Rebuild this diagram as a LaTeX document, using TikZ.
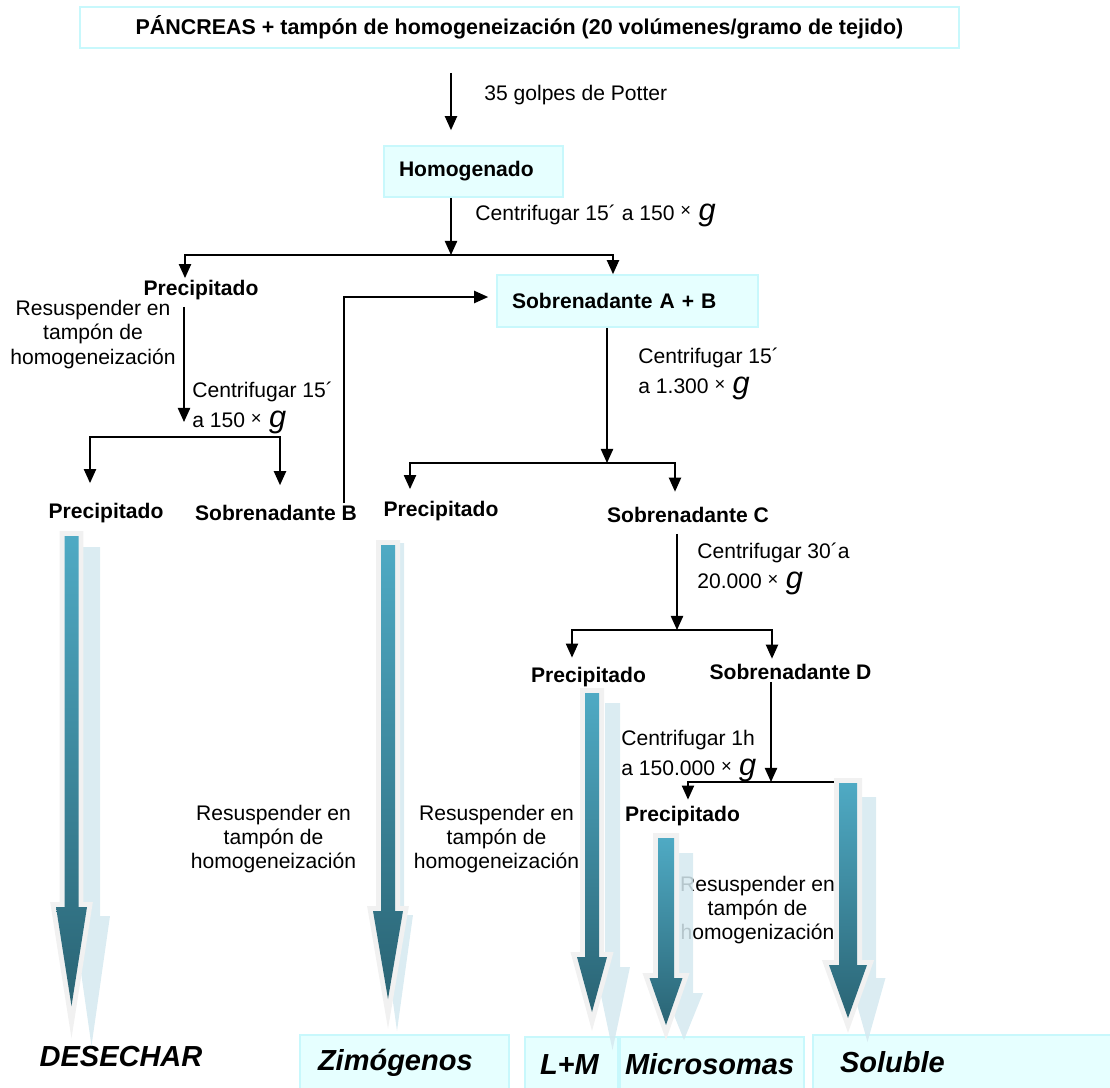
\documentclass[tikz,border=0pt]{standalone}
\usepackage{fontspec}
\setmainfont{Liberation Sans}
\usetikzlibrary{arrows.meta, calc}

\definecolor{boxfill}{HTML}{E6FFFF}
\definecolor{boxline}{HTML}{C8F8FC}
\definecolor{tealtop}{HTML}{4FAAC4}
\definecolor{tealbot}{HTML}{2A6474}
\definecolor{glowgray}{HTML}{F1F1F1}
\definecolor{shadowblue}{HTML}{D5E9F0}

\newcommand{\timesg}{\raisebox{2pt}{\fontsize{10.5}{10.5}\selectfont ×}\hspace{0.35em}{\fontsize{17.5}{17.5}\selectfont\itshape g}}

\begin{document}
\begin{tikzpicture}[x=0.02cm, y=-0.02cm,
    box/.style={draw=boxline, fill=boxfill, line width=1pt, font=\fontsize{12}{14}\selectfont\bfseries, align=left, inner xsep=0.3cm, inner ysep=0pt},
    stage/.style={font=\fontsize{12}{14}\selectfont\bfseries, inner sep=1pt},
    note/.style={font=\fontsize{12}{17.5}\selectfont, align=left, anchor=west, inner sep=0pt},
    resus/.style={font=\fontsize{12}{13.9}\selectfont, align=center, inner sep=0pt},
    outtext/.style={font=\fontsize{16.5}{18}\selectfont\bfseries\itshape},
    final/.style={outtext, draw=boxline, fill=boxfill, line width=1pt, align=left, minimum height=1.1cm, inner ysep=0pt},
    flow/.style={-{Triangle[width=7pt,length=8pt]}, line width=0.8pt}]
  \useasboundingbox (0,0) rectangle (1110,1088);

  % Nodes
  \node[draw=boxline, line width=1pt, minimum width=17.58cm, minimum height=0.82cm, font=\fontsize{12.2}{14}\selectfont\bfseries] (pancreas) at (519.5,27.5) {PÁNCREAS + tampón de homogeneización (20 volúmenes/gramo de tejido)};
  \node[box, text width=2.98cm, minimum height=1.02cm] (homog) at (473.5,171.5) {Homogenado};
  \node[box, text width=4.62cm, minimum height=1.04cm] (ab) at (627.5,301) {Sobrenadante A + B};

  \node[stage] (prec1) at (201,290) {Precipitado};
  \node[stage] (prec2) at (106,513) {Precipitado};
  \node[stage] (sobB) at (276,513) {Sobrenadante B};
  \node[stage] (prec3) at (441,511) {Precipitado};
  \node[stage] (sobC) at (688,515) {Sobrenadante C};
  \node[stage] (prec4) at (588.5,677) {Precipitado};
  \node[stage] (sobD) at (790.5,672) {Sobrenadante D};
  \node[stage] (prec5) at (682.5,816) {Precipitado};

  \node[outtext] (desechar) at (121,1057) {DESECHAR};
  \node[final, inner xsep=0.36cm, text width=3.46cm] (zimo) at (404.5,1062.5) {Zimógenos};
  \node[final, inner xsep=0.3cm, text width=1.26cm] (lm) at (571.5,1064.5) {L+M};
  \node[final, inner xsep=0.1cm, text width=3.48cm] (micro) at (712,1064.5) {Microsomas};
  \node[final, inner xsep=0.54cm, text width=5.16cm] (soluble) at (969,1062.5) {Soluble};

  % Labels
  \node[note] (potter) at (484,95) {35 golpes de Potter};
  \node[note] (spin1) at (475,215) {Centrifugar 15´ a 150 \timesg};
  \node[note] (spin2) at (192,408) {Centrifugar 15´\\a 150 \timesg};
  \node[note] (spin3) at (638,374) {Centrifugar 15´\\a 1.300 \timesg};
  \node[note] (spin4) at (697,569) {Centrifugar 30´a\\20.000 \timesg};
  \node[note] (spin5) at (621,756) {Centrifugar 1h\\a 150.000 \timesg};
  \node[resus] (resus1) at (93,334.5) {Resuspender en\\tampón de\\homogeneización};
  \node[resus] (resus2) at (273.5,839) {Resuspender en\\tampón de\\homogeneización};
  \node[resus] (resus3) at (496.5,839) {Resuspender en\\tampón de\\homogeneización};
  \node[resus] (resus4) at (757.5,910) {Resuspender en\\tampón de\\homogenización};

  % Arrows
  \coordinate (j1) at (451,255);
  \coordinate (j2) at (184,437);
  \coordinate (j3) at (607,463);
  \coordinate (j4) at (677,630);
  \coordinate (j5) at (771,782);
  \coordinate (j5end) at (836,782);

  \draw[flow, shorten <=0.48cm, shorten >=0.3cm] (pancreas.south -| j1) -- (homog.north -| j1);
  \draw[flow] (homog.south -| j1) -- (j1);
  \draw[flow] (j1) -| ([xshift=-0.32cm]prec1.north);
  \draw[flow] (j1) -| ([xshift=-0.29cm]ab.north);
  \draw[flow, shorten >=0.16cm] ([xshift=-0.3cm]sobB.north east) |- ([yshift=0.08cm]ab.west);

  \draw[flow, shorten <=0.1cm, shorten >=0.3cm] (prec1.south -| j2) -- (j2);
  \draw[flow, shorten >=0.36cm] (j2) -| ([xshift=-0.32cm]prec2.north);
  \draw[flow, shorten >=0.36cm] (j2) -| ([xshift=0.08cm]sobB.north);

  \draw[flow] (ab.south -| j3) -- (j3);
  \draw[flow, shorten >=0.2cm] (j3) -| ([xshift=-0.62cm]prec3.north);
  \draw[flow, shorten >=0.27cm] (j3) -| ([xshift=-0.26cm]sobC.north);

  \draw[flow, shorten <=0.18cm] (sobC.south -| j4) -- (j4);
  \draw[flow, shorten >=0.15cm] (j4) -| ([xshift=-0.33cm]prec4.north);
  \draw[flow, shorten >=0.07cm] (j4) -| ([xshift=-0.37cm]sobD.north);

  \draw[flow] (sobD.south -| j5) -- (j5);
  \draw[flow, shorten >=0.09cm] (j5) -| ([xshift=0.11cm]prec5.north);
  \draw[line width=0.8pt] (j5) -- (j5end);

  % Big arrows
  \foreach \xa/\ta/\ba/\ea/\wa/\ha/\xs/\ts/\bs/\es/\ws/\hs in {
      71.5/536/907/1006/7/15.5/91.5/547/916/1046/8.5/18.5,
      388/545/911/999/7/15/397/543/915/1031/7/16,
      592/693/957/1012/7/15/612.5/703/967/1050/7.5/17.5,
      666/838/978/1025/8/16.5/684/853/993/1040/9/19,
      848/783/965/1018/9/19/867.5/797/978/1042/8.5/18}
  {
    \fill[shadowblue, opacity=0.85] (\xs-\ws,\ts) -- (\xs+\ws,\ts) -- (\xs+\ws,\bs) -- (\xs+\hs,\bs) -- (\xs,\es) -- (\xs-\hs,\bs) -- (\xs-\ws,\bs) -- cycle;
    \draw[glowgray, line width=0.2cm, line join=miter] (\xa-\wa,\ta) -- (\xa+\wa,\ta) -- (\xa+\wa,\ba) -- (\xa+\ha,\ba) -- (\xa,\ea) -- (\xa-\ha,\ba) -- (\xa-\wa,\ba) -- cycle;
    \shade[top color=tealtop, bottom color=tealbot] (\xa-\wa,\ta) -- (\xa+\wa,\ta) -- (\xa+\wa,\ba) -- (\xa+\ha,\ba) -- (\xa,\ea) -- (\xa-\ha,\ba) -- (\xa-\wa,\ba) -- cycle;
  }
\end{tikzpicture}
\end{document}
